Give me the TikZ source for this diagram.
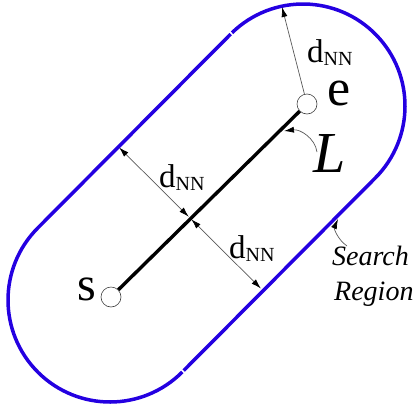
\documentclass[tikz,border=0pt]{standalone}
\usepackage{fontspec}
\setmainfont{LiberationSerif}[Extension=.ttf,UprightFont=*-Regular,ItalicFont=*-Italic,BoldFont=*-Bold]
\usetikzlibrary{arrows.meta,calc}
\definecolor{regionblue}{RGB}{36,0,225}
\newcommand\dnnlabel{{\fontsize{33}{33}\selectfont d}\raisebox{-3pt}{\fontsize{20}{20}\selectfont NN}}
\begin{document}
\begin{tikzpicture}[x=1pt,y=1pt,
  endpt/.style={circle,draw=black!75,fill=white,line width=0.6pt,minimum size=20pt,inner sep=0pt},
  region/.style={draw=regionblue,line width=3.5pt},
  seg/.style={draw=black,line width=3.4pt},
  dimarrow/.style={draw=black!65,line width=0.7pt,{Latex[length=10pt,width=6pt,color=black]}-{Latex[length=10pt,width=6pt,color=black]}},
  onearrow/.style={draw=black!65,line width=0.7pt,-{Latex[length=10pt,width=6pt,color=black]}},
  lbl/.style={inner sep=0pt,anchor=base west}
]
\useasboundingbox (0,0) rectangle (414,-407);
% search region (stadium)
\coordinate (A) at (110,-300);
\coordinate (B) at (303,-106);
\draw[region] ($(B)+(134.1:102)$) arc[start angle=134.1,end angle=-44.85,radius=102]
  -- ($(A)+(-44.85:102)+(45.15:2)$);
\draw[region] ($(A)+(-44.85:102)$) arc[start angle=-44.85,end angle=-224.85,radius=102]
  -- ($(B)+(135.15:102)$);
% segment L
\node[endpt] (s) at (111,-297) {};
\node[endpt] (e) at (307,-104) {};
\draw[seg] (s) -- (e);
% dimension arrows
\coordinate (C) at (190,-218);
\coordinate (c1) at ($(C)+(135.15:1.8)$);
\coordinate (u1) at ($(C)+(135.15:100)$);
\coordinate (c2) at ($(C)+(-44.85:1.8)$);
\coordinate (l1) at ($(C)+(-44.85:100)$);
\draw[dimarrow] (c1) -- (u1);
\draw[dimarrow] (c2) -- (l1);
\coordinate (t1) at (282,-7);
\draw[onearrow] (e) -- (t1);
% labels
\node[lbl] (d1) at (159,-187) {\dnnlabel};
\node[lbl] (d2) at (229,-258) {\dnnlabel};
\node[lbl] (d3) at (307,-62) {\dnnlabel};
\node[lbl,font=\fontsize{52}{52}\selectfont,text height=24pt,text depth=0pt] (elbl) at (327,-105) {e};
\node[lbl,font=\fontsize{48}{48}\selectfont,text height=23pt,text depth=0pt] (slbl) at (77,-300) {s};
\node[lbl,font=\fontsize{58}{58}\selectfont\itshape] (Llbl) at (313,-172) {L};
\node[lbl,font=\fontsize{28}{28}\selectfont\itshape] (sr1) at (332,-265) {Search};
\node[lbl,font=\fontsize{28}{28}\selectfont\itshape] (sr2) at (334,-300) {Region};
% pointer arrows
\coordinate (Lfrom) at (317,-152);
\coordinate (Lto) at (284,-131);
\draw[onearrow] (Lfrom) .. controls (315,-138) and (300,-129) .. (Lto);
\coordinate (Sfrom) at (347,-246);
\coordinate (Sto) at (338,-219);
\draw[onearrow] (Sfrom) .. controls (337,-239) and (334,-228) .. (Sto);
\end{tikzpicture}
\end{document}
